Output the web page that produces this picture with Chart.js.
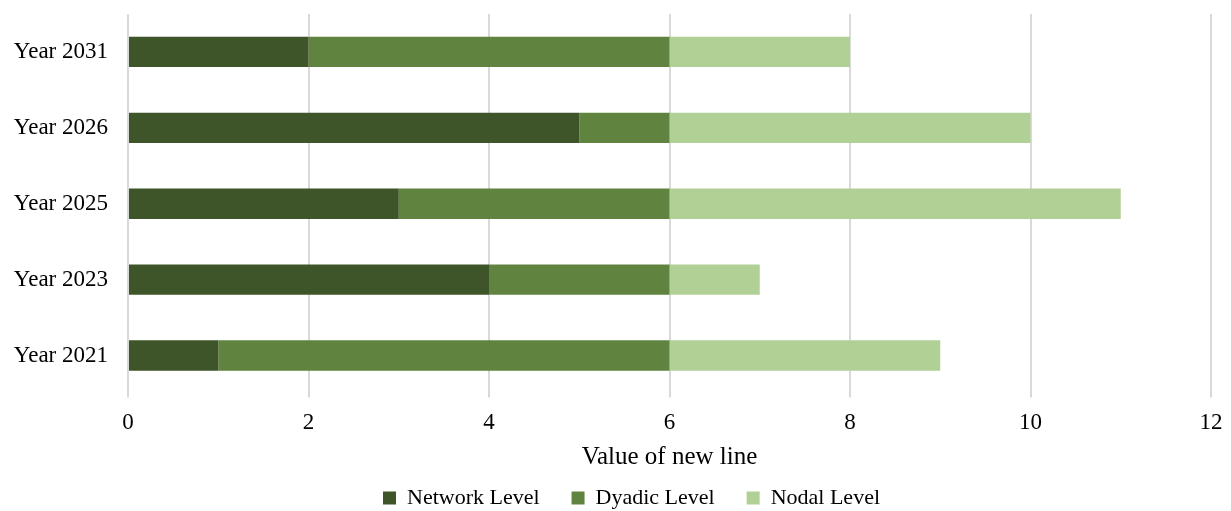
<!DOCTYPE html>
<html>
<head>
<meta charset="utf-8">
<script src="https://cdn.jsdelivr.net/npm/chart.js@4/dist/chart.umd.min.js"></script>
<style>
  html, body { margin: 0; padding: 0; background: #fff; }
  #wrap { width: 1231px; height: 511px; }
</style>
</head>
<body>
<div id="wrap"><canvas id="myChart"></canvas></div>
<script>
var years = ['Year 2031', 'Year 2026', 'Year 2025', 'Year 2023', 'Year 2021'];
var networkLevel = [2, 5, 3, 4, 1];
var dyadicLevel = [4, 1, 3, 2, 5];
var nodalLevel = [2, 4, 5, 1, 3];
var xTicks = [0, 2, 4, 6, 8, 10, 12];

var serif = "'Liberation Serif', 'Times New Roman', serif";

var data = {
  labels: years,
  datasets: [{
    label: 'Network Level',
    backgroundColor: 'rgb(62, 84, 41)',
    data: networkLevel
  }, {
    label: 'Dyadic Level',
    backgroundColor: 'rgb(96, 131, 64)',
    data: dyadicLevel
  }, {
    label: 'Nodal Level',
    backgroundColor: 'rgb(176, 208, 150)',
    data: nodalLevel
  }]
};

// legend sits a bit right of the page centre in the original
var shiftLegend = {
  id: 'shiftLegend',
  afterLayout: function(chart) {
    chart.legend.left += 26;
    chart.legend.right += 26;
  }
};

var config = {
  type: 'bar',
  data: data,
  plugins: [shiftLegend],
  options: {
    indexAxis: 'y',
    responsive: true,
    maintainAspectRatio: false,
    animation: false,
    layout: { padding: { top: 14, right: 20, left: 0, bottom: -8 } },
    datasets: { bar: { barPercentage: 0.4, categoryPercentage: 1 } },
    scales: {
      x: {
        stacked: true,
        min: 0,
        max: 12,
        afterBuildTicks: function(scale) {
          scale.ticks = xTicks.map(function(v) { return { value: v }; });
        },
        afterFit: function(scale) {
          scale.paddingLeft = 0;
          scale.paddingRight = 0;
        },
        border: { display: false },
        grid: { color: '#d9d9d9', lineWidth: 2, drawTicks: true, tickLength: 4, tickColor: '#d9d9d9' },
        ticks: { color: '#000', font: { family: serif, size: 23 }, padding: 12 },
        title: {
          display: true,
          text: 'Value of new line',
          color: '#000',
          font: { family: serif, size: 25 },
          padding: { top: -7, bottom: -17 }
        }
      },
      y: {
        stacked: true,
        border: { display: false },
        grid: { display: false },
        ticks: { color: '#000', font: { family: serif, size: 23 }, padding: 12 },
        afterFit: function(scale) {
          scale.width = 128;
          scale.paddingTop = 0;
          scale.paddingBottom = 0;
        }
      }
    },
    plugins: {
      legend: {
        position: 'bottom',
        labels: {
          color: '#000',
          font: { family: serif, size: 22 },
          boxWidth: 13,
          boxHeight: 13,
          padding: 32
        }
      },
      tooltip: { enabled: false }
    }
  }
};

var myChart = new Chart(document.getElementById('myChart'), config);
</script>
</body>
</html>
